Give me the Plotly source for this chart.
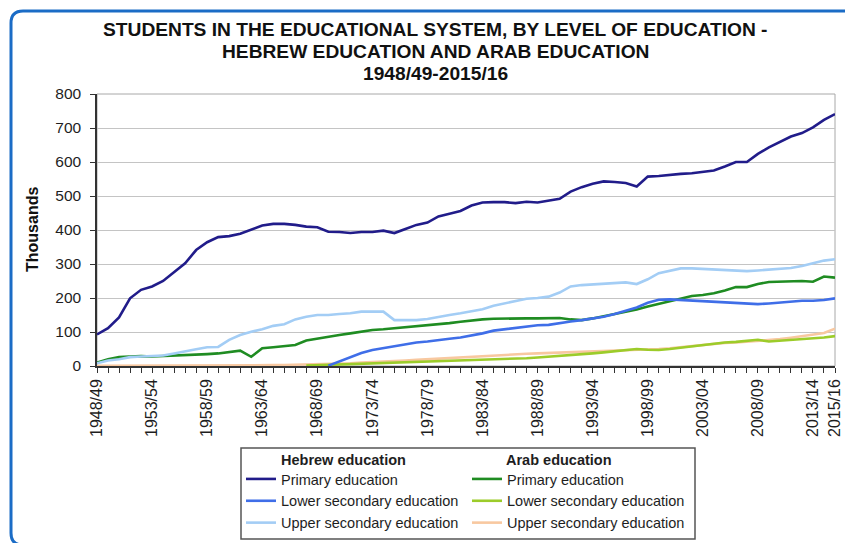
import plotly.graph_objects as go

# School years 1948/49 .. 2015/16, keyed by the first calendar year
years = list(range(1948, 2016))

tick_years = [1948, 1953, 1958, 1963, 1968, 1973, 1978, 1983, 1988, 1993,
              1998, 2003, 2008, 2013, 2015]
tick_labels = ["1948/49", "1953/54", "1958/59", "1963/64", "1968/69", "1973/74",
               "1978/79", "1983/84", "1988/89", "1993/94", "1998/99", "2003/04",
               "2008/09", "2013/14", "2015/16"]

# Students, thousands
heb_primary = [93, 111, 143, 199, 224, 234, 250, 275, 302, 341,
               364, 379, 382, 389, 400, 413, 418, 418, 415, 410,
               408, 395, 394, 391, 394, 394, 398, 391, 403, 415,
               422, 440, 448, 456, 472, 481, 482, 482, 479, 483,
               481, 487, 492, 513, 526, 536, 543, 541, 538, 528,
               557, 559, 563, 565, 567, 570, 575, 587, 600, 600,
               624, 643, 658, 675, 685, 702, 724, 741]

heb_lower_sec = [None] * 21 + [1, 14, 27, 38, 47, 53, 59, 64, 69,
                               72, 77, 80, 84, 89, 96, 104, 108, 111, 116,
                               120, 121, 127, 131, 135, 140, 145, 153, 162, 172,
                               186, 195, 196, 194, 192, 191, 189, 188, 186, 183,
                               182, 184, 187, 190, 192, 192, 194, 199]

heb_upper_sec = [8, 16, 20, 26, 28, 29, 31, 37, 42, 49,
                 55, 56, 77, 91, 101, 108, 118, 123, 137, 145,
                 150, 150, 153, 155, 160, 160, 160, 135, 135, 135,
                 138, 145, 150, 155, 161, 167, 177, 184, 192, 198,
                 200, 204, 216, 234, 238, 240, 241, 243, 246, 241,
                 255, 273, 279, 287, 287, 285, 283, 281, 280, 279,
                 281, 283, 285, 288, 294, 302, 310, 314]

arab_primary = [10, 20, 26, 28, 29, 28, 29, 30, 31, 33,
                35, 37, 42, 45, 27, 52, 55, 59, 62, 75,
                81, 86, 91, 96, 102, 106, 108, 111, 114, 116,
                118, 123, 126, 130, 134, 137, 139, 140, 140, 140,
                140, 140, 141, 137, 135, 140, 146, 153, 160, 166,
                175, 183, 191, 199, 206, 209, 214, 222, 232, 232,
                241, 247, 248, 251, 250, 248, 263, 260]

arab_lower_sec = [None] * 19 + [1, 2, 3, 4, 5, 6, 7, 8, 9, 10, 11,
                                12, 13, 14, 15, 16, 18, 19, 20, 21, 23,
                                25, 27, 29, 31, 34, 37, 40, 43, 46, 50,
                                48, 47, 50, 54, 58, 62, 67, 69, 71, 74,
                                77, 72, 74, 77, 79, 81, 84, 88]

arab_upper_sec = [0.3, 0.3, 0.4, 0.5, 0.5, 0.6, 0.7, 0.8, 0.9, 1.0,
                  1.1, 1.2, 1.4, 1.6, 1.8, 2, 2.5, 3, 3.5, 4,
                  4.5, 6, 7, 8, 10, 11, 13, 15, 16, 18,
                  20, 22, 24, 26, 28, 30, 31, 33, 34, 36,
                  37, 38, 39, 40, 41, 43, 44, 46, 47, 48,
                  49, 50, 52, 55, 58, 62, 66, 68, 69, 71,
                  73, 76, 79, 83, 87, 92, 97, 110]

W, H = 845, 543
ML, MR, MT, MB = 97, 10, 94, 177
PW, PH = W - ML - MR, H - MT - MB


def fx(px):
    return (px - ML) / PW


def fy(py):
    return (H - MB - py) / PH


FONT = "Liberation Sans, Arial, sans-serif"
TXT = "#1e1e1e"

series = [
    ("Primary education", heb_primary, "#211c8a", "legend"),
    ("Lower secondary education", heb_lower_sec, "#3f6ee8", "legend"),
    ("Upper secondary education", heb_upper_sec, "#a3cdf5", "legend"),
    ("Primary education", arab_primary, "#1f8c22", "legend2"),
    ("Lower secondary education", arab_lower_sec, "#9ccc2a", "legend2"),
    ("Upper secondary education", arab_upper_sec, "#f8c8a0", "legend2"),
]

fig = go.Figure()
draw_order = [5, 4, 3, 1, 2, 0]
for k in draw_order:
    name, vals, color, leg = series[k]
    fig.add_trace(go.Scatter(
        x=years, y=vals, name=name, mode="lines",
        line=dict(color=color, width=2.6),
        legend=leg, legendrank=k, connectgaps=False,
    ))

legend_common = dict(
    orientation="v", xanchor="left", yanchor="top",
    bgcolor="rgba(0,0,0,0)", borderwidth=0,
    font=dict(family=FONT, size=14.5, color=TXT),
    traceorder="normal", itemwidth=30,
)

fig.update_layout(
    width=W, height=H,
    margin=dict(l=ML, r=MR, t=MT, b=MB, pad=0, autoexpand=False),
    paper_bgcolor="white", plot_bgcolor="white",
    showlegend=True,
    legend=dict(x=fx(241), y=fy(463), **legend_common),
    legend2=dict(x=fx(467), y=fy(463), **legend_common),
    xaxis=dict(
        range=[1948, 2015], tickmode="array",
        tickvals=tick_years, ticktext=tick_labels, tickangle=-90,
        ticks="outside", ticklen=5, tickcolor="#333", tickwidth=1,
        minor=dict(dtick=1, tick0=1948, ticks="outside", ticklen=5,
                   tickcolor="#333", tickwidth=1, showgrid=False),
        showline=True, linecolor="#333", linewidth=1.5,
        showgrid=False, zeroline=False, automargin=False,
        tickfont=dict(family=FONT, size=16, color=TXT),
    ),
    yaxis=dict(
        range=[0, 800], dtick=100, tick0=0,
        ticks="outside", ticklen=5, tickcolor="#333", tickwidth=1,
        showline=True, linecolor="#333", linewidth=1.5,
        showgrid=True, gridcolor="#c4c4c4", gridwidth=1, zeroline=False,
        automargin=False,
        tickfont=dict(family=FONT, size=15.5, color=TXT),
        ticklabelstandoff=6,
    ),
)

# Plot-area frame (top and right edges), legend box and outer panel border
fig.add_shape(type="rect", xref="paper", yref="paper", x0=0, x1=1, y0=0, y1=1,
              line=dict(color="#a8a8a8", width=1), layer="below")
fig.add_shape(type="rect", xref="paper", yref="paper",
              x0=fx(241), x1=fx(695), y0=fy(539), y1=fy(448),
              line=dict(color="#555555", width=1.5), fillcolor="rgba(0,0,0,0)")
r = 12
fig.add_shape(
    type="path", xref="paper", yref="paper",
    path=(f"M {fx(860)},{fy(11)} L {fx(11 + r)},{fy(11)} "
          f"Q {fx(11)},{fy(11)} {fx(11)},{fy(11 + r)} "
          f"L {fx(11)},{fy(545 - r)} Q {fx(11)},{fy(545)} {fx(11 + r)},{fy(545)} "
          f"L {fx(860)},{fy(545)}"),
    line=dict(color="#1b6cc6", width=3),
)

# Title lines
title_lines = [("STUDENTS IN THE EDUCATIONAL SYSTEM, BY LEVEL OF EDUCATION -", 30),
               ("HEBREW EDUCATION AND ARAB EDUCATION", 51.5),
               ("1948/49-2015/16", 73)]
for text, ypx in title_lines:
    fig.add_annotation(text=f"<b>{text}</b>", xref="paper", yref="paper",
                       x=fx(435), y=fy(ypx), xanchor="center", yanchor="middle",
                       showarrow=False,
                       font=dict(family=FONT, size=19.2, color="#111"))

# Y axis title
fig.add_annotation(text="<b>Thousands</b>", xref="paper", yref="paper",
                   x=fx(32), y=fy(230), xanchor="center", yanchor="middle",
                   textangle=-90, showarrow=False,
                   font=dict(family=FONT, size=16, color="#111"))

# Legend group headers
for text, xpx in [("Hebrew education", 279), ("Arab education", 504)]:
    fig.add_annotation(text=f"<b>{text}</b>", xref="paper", yref="paper",
                       x=fx(xpx), y=fy(459.5), xanchor="left", yanchor="middle",
                       showarrow=False,
                       font=dict(family=FONT, size=14.5, color=TXT))

fig.write_html("out.html")
